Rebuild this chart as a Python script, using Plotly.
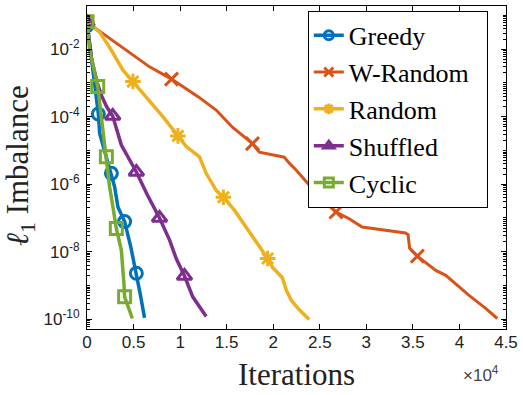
import plotly.graph_objects as go

# iterations (x) and l1 imbalance (y)
greedy_x = [0, 100, 600, 1000, 1220, 1360, 2110, 2620, 2970, 3320, 4040, 4700, 5300, 5750, 6180]
greedy_y = [5.0e-2, 3.5e-2, 2.8e-3, 3.2e-4, 1.2e-4, 3.2e-5, 6.3e-6, 2.1e-6, 8.3e-7, 2.1e-7,
            7.8e-8, 1.4e-8, 2.3e-9, 5.0e-10, 1.1e-10]
greedy_marks = [0, 4, 7, 10, 12]

wrandom_x = [0, 3150, 6720, 9080, 12010, 13900, 15620, 17770, 18510, 21190, 21730, 22480, 23560,
             25270, 26740, 28160, 29550, 32100, 34200, 34480, 34650, 35480, 37460, 38530, 41030,
             42820, 44060]
wrandom_y = [6.3e-2, 1.5e-2, 3.0e-3, 1.3e-3, 3.8e-4, 1.55e-4, 4.9e-5, 1.6e-5, 8.9e-6, 6.3e-6,
             4.2e-6, 2.6e-6, 1.15e-6, 3.4e-7, 1.5e-7, 9.5e-8, 5.4e-8, 4.4e-8, 3.6e-8, 3.2e-8,
             1.26e-8, 7.4e-9, 2.8e-9, 2.0e-9, 5.1e-10, 2.1e-10, 1.05e-10]
wrandom_marks = [0, 3, 7, 14, 21]

random_x = [0, 1360, 2620, 3860, 4930, 6370, 8150, 9760, 10660, 12080, 12800, 13870, 14650,
            15830, 16900, 17980, 19400, 19910, 20980, 21410, 21950, 22800, 23870]
random_y = [6.3e-2, 3.2e-2, 9.3e-3, 2.4e-3, 1.1e-3, 3.9e-4, 1.0e-4, 2.7e-5, 1.3e-5, 6.5e-6,
            2.1e-6, 6.6e-7, 4.1e-7, 1.7e-7, 6.2e-8, 2.2e-8, 6.3e-9, 3.5e-9, 1.7e-9, 7.2e-10,
            3.6e-10, 1.9e-10, 9.8e-11]
random_marks = [0, 4, 7, 12, 16]

shuffled_x = [0, 500, 1100, 1600, 2100, 2760, 3690, 4500, 5300, 6500, 7790, 8870, 9580, 10470,
              11360, 12800]
shuffled_y = [6.3e-2, 5.0e-3, 1.0e-3, 4.0e-4, 2.0e-4, 1.05e-4, 1.45e-5, 5.6e-6, 2.3e-6, 4.7e-7,
              1.0e-7, 2.2e-8, 6.3e-9, 1.9e-9, 4.6e-10, 1.2e-10]
shuffled_marks = [0, 5, 8, 10, 13]

cyclic_x = [0, 290, 1150, 1600, 2080, 2430, 2800, 3150, 3690, 3860, 3970, 4040, 4580, 4870]
cyclic_y = [6.5e-2, 9.3e-3, 7.8e-4, 7.1e-5, 6.5e-6, 8.3e-7, 2.0e-7, 4.9e-8, 1.1e-8, 3.5e-9,
            1.1e-9, 4.6e-10, 1.9e-10, 1.05e-10]
cyclic_marks = [0, 2, 4, 7, 11]

x_ticks = [0, 5000, 10000, 15000, 20000, 25000, 30000, 35000, 40000, 45000]
x_labels = ["0", "0.5", "1", "1.5", "2", "2.5", "3", "3.5", "4", "4.5"]
y_ticks = [1e-10, 1e-8, 1e-6, 1e-4, 1e-2]
y_labels = ["10<sup>-10</sup>", "10<sup>-8</sup>", "10<sup>-6</sup>", "10<sup>-4</sup>", "10<sup>-2</sup>"]

series = [
    ("Greedy", greedy_x, greedy_y, greedy_marks, "#0072BD", "circle-open", 12, 3.5),
    # trailing no-break spaces only widen the legend box a little
    ("W-Random\u00a0\u00a0", wrandom_x, wrandom_y, wrandom_marks, "#D95319", "x-thin-open", 13, 3),
    ("Random", random_x, random_y, random_marks, "#EDB120", "asterisk-open", 13, 3.5),
    ("Shuffled", shuffled_x, shuffled_y, shuffled_marks, "#7E2F8E", "triangle-up-open", 13, 3.5),
    ("Cyclic", cyclic_x, cyclic_y, cyclic_marks, "#77AC30", "square-open", 12, 3.5),
]

SERIF = "Liberation Serif"
SANS = "Liberation Sans"

fig = go.Figure()

for name, xs, ys, marks, color, symbol, msize, lw in series:
    # the curve itself
    fig.add_trace(go.Scatter(
        x=xs, y=ys, mode="lines", showlegend=False,
        line=dict(color=color, width=lw)
    ))
    # markers only on a few points, like MATLAB MarkerIndices
    fig.add_trace(go.Scatter(
        x=[xs[i] for i in marks], y=[ys[i] for i in marks],
        mode="markers", showlegend=False,
        marker=dict(symbol=symbol, size=msize, color=color, line=dict(color=color, width=3))
    ))
    # legend entry
    fig.add_trace(go.Scatter(
        x=[None], y=[None], mode="lines+markers", name=name,
        line=dict(color=color, width=lw),
        marker=dict(symbol=symbol, size=9, color=color, line=dict(color=color, width=3))
    ))

fig.update_xaxes(
    range=[0, 45000], automargin=False,
    tickvals=x_ticks, ticktext=x_labels,
    ticks="inside", ticklen=5, tickcolor="black", ticklabelstandoff=-2,
    showline=True, linecolor="black", linewidth=1, mirror="ticks",
    showgrid=False, zeroline=False,
    tickfont=dict(family=SANS, size=17, color="#222222")
)

fig.update_yaxes(
    type="log", range=[-10.29, -0.72], automargin=False,
    tickvals=y_ticks, ticktext=y_labels,
    ticks="inside", ticklen=5, tickcolor="black", ticklabelstandoff=3,
    minor=dict(ticks="inside", ticklen=3, dtick="D1", tickcolor="black", showgrid=False),
    showline=True, linecolor="black", linewidth=1, mirror="ticks",
    showgrid=False, zeroline=False,
    tickfont=dict(family=SANS, size=17, color="#222222")
)

fig.add_annotation(
    text="Iterations", xref="paper", yref="paper", x=0.5, y=-0.142,
    xanchor="center", yanchor="middle", showarrow=False,
    font=dict(family=SERIF, size=31, color="#222222")
)
fig.add_annotation(
    text="<i>ℓ</i><sub>1</sub> Imbalance", xref="paper", yref="paper", x=-0.16, y=0.508,
    xanchor="center", yanchor="middle", textangle=-90, showarrow=False,
    font=dict(family=SERIF, size=31, color="#222222")
)
fig.add_annotation(
    text="×10<sup>4</sup>", xref="paper", yref="paper", x=0.988, y=-0.14,
    xanchor="right", yanchor="middle", showarrow=False,
    font=dict(family=SANS, size=17, color="#444444")
)

fig.update_layout(
    width=523, height=395,
    margin=dict(l=87, r=17, t=6, b=66, autoexpand=False),
    plot_bgcolor="white", paper_bgcolor="white",
    font=dict(family=SERIF),
    legend=dict(
        x=0.527, y=0.985, xanchor="left", yanchor="top",
        bgcolor="white", bordercolor="black", borderwidth=1,
        font=dict(family=SERIF, size=26, color="black"),
        tracegroupgap=0
    )
)

# drop the default 8px page margin so the figure sits at the window's corner
fig.write_html("out.html", config={"displayModeBar": False},
               post_script="document.body.style.margin='0px';")
